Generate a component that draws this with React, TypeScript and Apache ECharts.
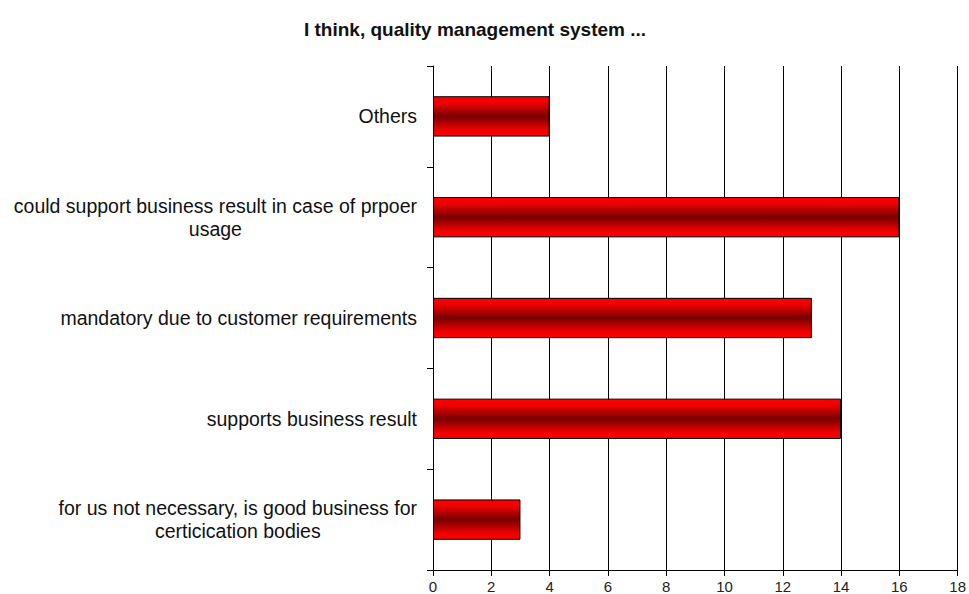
import React, { useEffect, useRef } from "react";
import * as echarts from "echarts";

const titleText = "I think, quality management system ...";
const categories = [
  "for us not necessary, is good business for\ncerticication bodies",
  "supports business result",
  "mandatory due to customer requirements",
  "could support business result in case of prpoer\nusage",
  "Others",
];
const values = [3, 14, 13, 16, 4];
const xMin = 0;
const xMax = 18;
const xInterval = 2;

export default function App() {
  const ref = useRef<HTMLDivElement>(null);
  useEffect(() => {
    document.body.style.margin = "0";
    const chart = echarts.init(ref.current!, null, { renderer: "svg" });
    const barColor = new echarts.graphic.LinearGradient(0, 0, 0, 1, [
      { offset: 0, color: "#ff0000" },
      { offset: 0.15, color: "#f00000" },
      { offset: 0.5, color: "#780000" },
      { offset: 0.85, color: "#f00000" },
      { offset: 1, color: "#ff0000" },
    ]);
    chart.setOption({
      animation: false,
      backgroundColor: "#ffffff",
      title: {
        text: titleText,
        left: 470,
        textAlign: "center",
        top: 15,
        textStyle: {
          fontFamily: "Liberation Sans, Arial, sans-serif",
          fontSize: 19,
          fontWeight: "bold",
          color: "#111",
        },
      },
      grid: { left: 433, right: 7, top: 66, bottom: 22, containLabel: false },
      xAxis: {
        type: "value",
        min: xMin,
        max: xMax,
        interval: xInterval,
        axisLine: { show: true, lineStyle: { color: "#000", width: 1 } },
        axisTick: { show: true, length: 6, lineStyle: { color: "#000" } },
        splitLine: { show: true, lineStyle: { color: "#000", width: 1 } },
        axisLabel: {
          fontFamily: "Liberation Sans, Arial, sans-serif",
          fontSize: 15,
          color: "#222",
          margin: 9,
        },
      },
      yAxis: {
        type: "category",
        data: categories,
        axisLine: { show: true, lineStyle: { color: "#000", width: 1 } },
        axisTick: { show: true, length: 6, lineStyle: { color: "#000" } },
        splitLine: { show: false },
        axisLabel: {
          margin: 16,
          align: "right",
          formatter: (v: string) =>
            v
              .split("\n")
              .map((s) => "{c|" + s + "}")
              .join("\n"),
          rich: {
            c: {
              align: "center",
              fontFamily: "Liberation Sans, Arial, sans-serif",
              fontSize: 19.5,
              lineHeight: 23,
              color: "#111",
            },
          },
        },
      },
      series: [
        {
          type: "bar",
          data: values,
          barWidth: "40%",
          itemStyle: {
            color: barColor,
            borderColor: "#000",
            borderWidth: 1,
          },
        },
      ],
    });
    return () => chart.dispose();
  }, []);
  return <div ref={ref} style={{ width: 969, height: 594 }} />;
}
